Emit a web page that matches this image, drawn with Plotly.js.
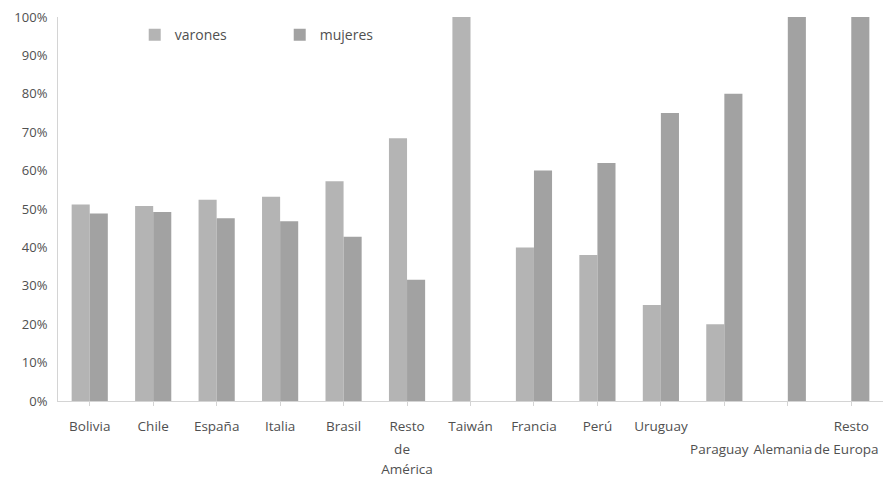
<!DOCTYPE html>
<html>
<head>
<meta charset="utf-8">
<script src="https://cdn.plot.ly/plotly-3.0.1.min.js"></script>
<style>html,body{margin:0;padding:0;overflow:hidden;background:#fff}</style>
</head>
<body>
<div id="chart"></div>
<script>
const categories = ["Bolivia","Chile","España","Italia","Brasil","Resto de América","Taiwán","Francia","Perú","Uruguay","Paraguay","Alemania","Resto de Europa"];
const varones = [0.512, 0.508, 0.524, 0.532, 0.572, 0.684, 1.00, 0.40, 0.38, 0.25, 0.20, 0, 0];
const mujeres = [0.488, 0.492, 0.476, 0.468, 0.428, 0.316, 0, 0.60, 0.62, 0.75, 0.80, 1.00, 1.00];
const labelRow1 = ["Bolivia","Chile","España","Italia","Brasil","Resto","Taiwán","Francia","Perú","Uruguay","","","Resto"];
const labelRow2 = ["","","","","","de","","","","","Paraguay","Alemania","de Europa"];
const labelRow3 = ["","","","","","América","","","","","","",""];
const yTickVals = [0,0.1,0.2,0.3,0.4,0.5,0.6,0.7,0.8,0.9,1.0];
const yTickText = ["0%","10%","20%","30%","40%","50%","60%","70%","80%","90%","100%"];

const xFont = {family: "Open Sans, sans-serif", size: 13.5, color: "#505050"};
const yFont = {family: "Open Sans, sans-serif", size: 13, color: "#505050"};
const idx = categories.map((c, i) => i);

const traces = [
  {type: "bar", name: "varones", x: idx, y: varones, marker: {color: "#b4b4b4"}},
  {type: "bar", name: "mujeres", x: idx, y: mujeres, marker: {color: "#a2a2a2"}}
];

function labelAxis(text, standoff, extra) {
  return Object.assign({
    range: [-0.5, categories.length - 0.5],
    tickmode: "array", tickvals: idx, ticktext: text, tickangle: 0,
    ticks: "", showgrid: false, zeroline: false, showline: false,
    tickfont: xFont, ticklabelstandoff: standoff, ticklabeloverflow: "allow",
    fixedrange: true
  }, extra || {});
}

const layout = {
  width: 883, height: 479,
  margin: {l: 58, r: 0, t: 17, b: 78},
  paper_bgcolor: "#ffffff", plot_bgcolor: "#ffffff",
  barmode: "group", bargap: 0.43, bargroupgap: 0,
  showlegend: true,
  legend: {orientation: "h", x: 0.093, y: 0.953, xanchor: "left", yanchor: "middle",
           font: {family: "Open Sans, sans-serif", size: 14, color: "#505050"},
           entrywidth: 100, entrywidthmode: "pixels", bgcolor: "rgba(0,0,0,0)"},
  xaxis: labelAxis(labelRow1, 9, {showline: true, linecolor: "#d4d4d4", linewidth: 1,
           ticks: "outside", ticklen: 4, tickcolor: "#d4d4d4", tickson: "boundaries"}),
  xaxis2: labelAxis(labelRow2, 38, {overlaying: "x", side: "bottom", anchor: "y", ticklabelshift: -5}),
  xaxis3: labelAxis(labelRow3, 58, {overlaying: "x", side: "bottom", anchor: "y"}),
  yaxis: {range: [0, 1], tickmode: "array", tickvals: yTickVals, ticktext: yTickText,
          showgrid: false, zeroline: false, showline: true, linecolor: "#d4d4d4", linewidth: 1,
          ticks: "", tickfont: yFont, ticklabelstandoff: 7, fixedrange: true}
};

// invisible traces to activate the extra label axes
traces.push({type: "scatter", x: [0], y: [0], xaxis: "x2", yaxis: "y", mode: "none", showlegend: false, hoverinfo: "skip"});
traces.push({type: "scatter", x: [0], y: [0], xaxis: "x3", yaxis: "y", mode: "none", showlegend: false, hoverinfo: "skip"});

Plotly.newPlot("chart", traces, layout, {displayModeBar: false, staticPlot: true});
</script>
</body>
</html>
